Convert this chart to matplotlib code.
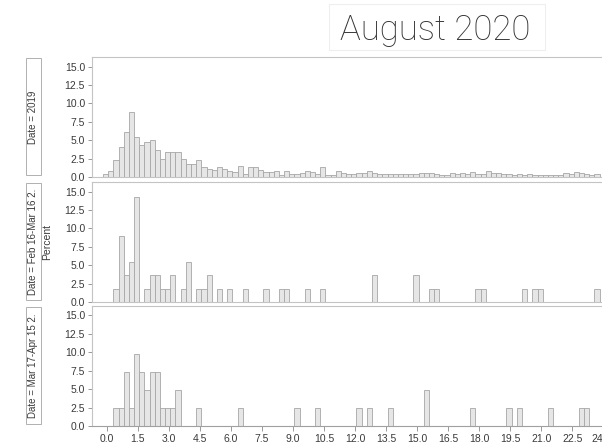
import matplotlib
matplotlib.use("Agg")
from matplotlib import pyplot as plt
from matplotlib.patches import Rectangle

plt.rcParams['font.family'] = ['Liberation Sans', 'DejaVu Sans']

# histogram bins: 15-minute bins, index k starts at FIRST_EDGE + k*BIN_WIDTH (hours)
BIN_WIDTH = 0.25
FIRST_EDGE = -0.18

# Date = 2019, every bin from k=0
pct_2019 = [0.45, 0.85, 2.3, 4.05, 6.1, 8.8, 5.5, 4.3, 4.8, 5.0,
            3.65, 2.4, 3.35, 3.45, 3.35, 2.5, 1.7, 1.75, 2.25, 1.3,
            1.15, 0.9, 1.35, 1.15, 0.75, 0.65, 1.55, 0.45, 1.3, 1.3,
            0.9, 0.7, 0.65, 0.75, 0.3, 0.75, 0.35, 0.45, 0.5, 0.8,
            0.65, 0.35, 1.35, 0.3, 0.3, 0.85, 0.6, 0.35, 0.35, 0.5,
            0.5, 0.85, 0.5, 0.45, 0.4, 0.45, 0.4, 0.35, 0.35, 0.35,
            0.45, 0.6, 0.6, 0.6, 0.35, 0.3, 0.25, 0.5, 0.45, 0.55,
            0.4, 0.65, 0.45, 0.35, 0.85, 0.6, 0.5, 0.35, 0.35, 0.3,
            0.45, 0.3, 0.35, 0.25, 0.3, 0.3, 0.3, 0.3, 0.3, 0.6,
            0.45, 0.7, 0.55, 0.45, 0.3, 0.35]
bins_2019 = list(range(len(pct_2019)))

# Date = Feb 16-Mar 16 2020
bins_feb = [2, 3, 4, 5, 6, 8, 9, 10, 11, 12, 13, 15, 16, 18, 19, 20, 22, 24,
            27, 31, 34, 35, 39, 42, 52, 60, 63, 64, 72, 73, 81, 83, 84, 95]
pct_feb = [1.8, 9.0, 3.6, 5.4, 14.3, 1.8, 3.6, 3.6, 1.8, 1.8, 3.6, 1.8, 5.4,
           1.8, 1.8, 3.6, 1.8, 1.8, 1.8, 1.8, 1.8, 1.8, 1.8, 1.8, 3.6, 3.6,
           1.8, 1.8, 1.8, 1.8, 1.8, 1.8, 1.8, 1.8]

# Date = Mar 17-Apr 15 2020
bins_mar = [2, 3, 4, 5, 6, 7, 8, 9, 10, 11, 12, 13, 14, 18, 26, 37, 41, 49,
            51, 55, 62, 71, 78, 80, 86, 92, 93]
pct_mar = [2.4, 2.4, 7.3, 2.4, 9.8, 7.3, 4.9, 7.3, 7.3, 2.4, 2.4, 2.4, 4.9,
           2.4, 2.4, 2.4, 2.4, 2.4, 2.4, 2.4, 4.9, 2.4, 2.4, 2.4, 2.4, 2.4, 2.4]

strip_labels = ['Date = 2019', 'Date = Feb 16-Mar 16 2.', 'Date = Mar 17-Apr 15 2.']
yticks = [0, 2.5, 5.0, 7.5, 10.0, 12.5, 15.0]
xticks = [0.0, 1.5, 3.0, 4.5, 6.0, 7.5, 9.0, 10.5, 12.0, 13.5, 15.0, 16.5,
          18.0, 19.5, 21.0, 22.5, 24.0]
xtick_labels = ['0.0', '1.5', '3.0', '4.5', '6.0', '7.5', '9.0', '10.5', '12.0',
                '13.5', '15.0', '16.5', '18.0', '19.5', '21.0', '22.5', '24']

W, H = 602, 447
fig = plt.figure(figsize=(W / 100, H / 100), dpi=100)


def box(left, top, right, bottom):
    return [left / W, 1 - bottom / H, (right - left) / W, (bottom - top) / H]


panels = [(bins_2019, pct_2019, 57, 177),
          (bins_feb, pct_feb, 182, 302),
          (bins_mar, pct_mar, 305.5, 426)]

frame = '#c4c4c4'
txt = '#3a3a3a'
for i, (bins, pct, top, bottom) in enumerate(panels):
    ax = fig.add_axes(box(92, top, 612, bottom))
    starts = [FIRST_EDGE + k * BIN_WIDTH for k in bins]
    ax.bar(starts, pct, width=BIN_WIDTH, align='edge', color='#e6e6e6',
           edgecolor='#a6a6a6', linewidth=0.6)
    ax.set_xlim(-0.715, 24.42)
    ax.set_ylim(0, 16.3)
    ax.set_yticks(yticks)
    ax.set_yticklabels(['%.1f' % v for v in yticks])
    ax.tick_params(axis='y', length=3, width=0.7, color='#999999',
                   labelsize=7.5, labelcolor=txt, pad=2)
    for s in ax.spines.values():
        s.set_color(frame)
        s.set_linewidth(0.8)
    if i < 2:
        ax.set_xticks([])
    else:
        ax.set_xticks(xticks)
        ax.set_xticklabels(xtick_labels)
        ax.tick_params(axis='x', length=3.5, width=0.7, color='#999999',
                       labelsize=7.5, labelcolor=txt, pad=2)
        ax.get_xticklabels()[-1].set_ha('right')  # last one sits at the edge
        ax.spines['bottom'].set_color('#a0a0a0')

    # strip label box on the left
    fig.patches.append(Rectangle((26 / W, 1 - (bottom - 2) / H), 15 / W,
                                 (bottom - top - 3) / H, transform=fig.transFigure,
                                 facecolor='white', edgecolor='#b0b0b0', linewidth=0.7))
    fig.text(33.5 / W, 1 - (top + bottom) / 2 / H, strip_labels[i], rotation=90,
             ha='center', va='center', fontsize=7, color=txt)

fig.text(47 / W, 1 - 242 / H, 'Percent', rotation=90, ha='center', va='center',
         fontsize=7.5, color=txt)

# title box
fig.patches.append(Rectangle((329 / W, 1 - 50 / H), 216 / W, 46 / H,
                             transform=fig.transFigure, facecolor='white',
                             edgecolor='#eeeeee', linewidth=0.8))
fig.text(340 / W, 1 - 40 / H, 'August 2020', ha='left', va='baseline',
         fontsize=25, color='#333333', family=['Roboto', 'DejaVu Sans'],
         fontweight='light')

fig.savefig('out.png', dpi=100)
